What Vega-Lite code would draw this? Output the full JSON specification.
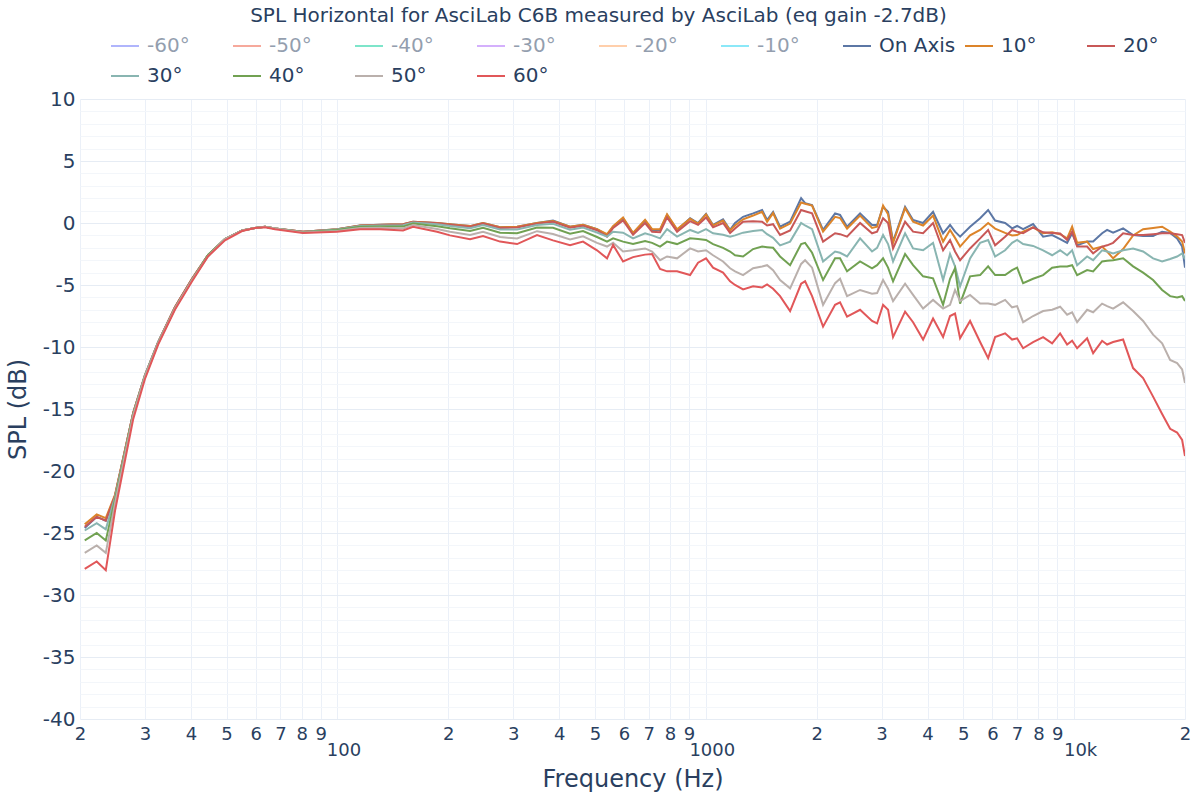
{
"$schema":"https://vega.github.io/schema/vega-lite/v6.json",
"width":1105,"height":620,
"autosize":{"type":"none"},
"padding":{"left":80,"top":99,"right":15,"bottom":81},
"background":"white",
"title":{"text":"SPL Horizontal for AsciLab C6B measured by AsciLab (eq gain -2.7dB)","anchor":"middle","fontSize":20,"font":"DejaVu Sans","fontWeight":"normal","color":"#2a3f5f","offset":5,"dx":-34},
"config":{"view":{"stroke":null}},
"data":{"values":[
{"f":20.6,"On Axis":-24.6,"10°":-24.3,"20°":-24.5,"30°":-24.8,"40°":-25.6,"50°":-26.6,"60°":-27.9},
{"f":22.2,"On Axis":-23.7,"10°":-23.5,"20°":-23.7,"30°":-24.2,"40°":-25.0,"50°":-26.0,"60°":-27.3},
{"f":23.5,"On Axis":-24.0,"10°":-23.8,"20°":-24.0,"30°":-24.7,"40°":-25.6,"50°":-26.6,"60°":-28.0},
{"f":24.9,"On Axis":-22.0,"10°":-21.9,"20°":-22.0,"30°":-22.1,"40°":-22.3,"50°":-22.6,"60°":-23.2},
{"f":27.9,"On Axis":-15.3,"10°":-15.3,"20°":-15.3,"30°":-15.4,"40°":-15.4,"50°":-15.5,"60°":-15.8},
{"f":30.0,"On Axis":-12.3,"10°":-12.3,"20°":-12.3,"30°":-12.3,"40°":-12.4,"50°":-12.4,"60°":-12.6},
{"f":32.6,"On Axis":-9.6,"10°":-9.6,"20°":-9.6,"30°":-9.6,"40°":-9.7,"50°":-9.7,"60°":-9.8},
{"f":36.2,"On Axis":-6.8,"10°":-6.8,"20°":-6.8,"30°":-6.9,"40°":-6.9,"50°":-6.9,"60°":-7.0},
{"f":40.3,"On Axis":-4.5,"10°":-4.5,"20°":-4.5,"30°":-4.6,"40°":-4.6,"50°":-4.6,"60°":-4.7},
{"f":44.5,"On Axis":-2.6,"10°":-2.6,"20°":-2.6,"30°":-2.6,"40°":-2.6,"50°":-2.7,"60°":-2.7},
{"f":49.5,"On Axis":-1.3,"10°":-1.3,"20°":-1.3,"30°":-1.3,"40°":-1.3,"50°":-1.3,"60°":-1.4},
{"f":55.1,"On Axis":-0.6,"10°":-0.6,"20°":-0.6,"30°":-0.6,"40°":-0.6,"50°":-0.6,"60°":-0.65},
{"f":59.7,"On Axis":-0.4,"10°":-0.4,"20°":-0.4,"30°":-0.4,"40°":-0.4,"50°":-0.4,"60°":-0.4},
{"f":63.6,"On Axis":-0.3,"10°":-0.3,"20°":-0.3,"30°":-0.3,"40°":-0.3,"50°":-0.3,"60°":-0.35},
{"f":67.7,"On Axis":-0.45,"10°":-0.45,"20°":-0.45,"30°":-0.45,"40°":-0.45,"50°":-0.45,"60°":-0.5},
{"f":80.6,"On Axis":-0.7,"10°":-0.7,"20°":-0.7,"30°":-0.72,"40°":-0.74,"50°":-0.77,"60°":-0.8},
{"f":99.7,"On Axis":-0.5,"10°":-0.5,"20°":-0.52,"30°":-0.53,"40°":-0.57,"50°":-0.64,"60°":-0.7},
{"f":115.2,"On Axis":-0.2,"10°":-0.2,"20°":-0.22,"30°":-0.25,"40°":-0.31,"50°":-0.4,"60°":-0.5},
{"f":130.5,"On Axis":-0.15,"10°":-0.15,"20°":-0.17,"30°":-0.21,"40°":-0.28,"50°":-0.39,"60°":-0.5},
{"f":150.7,"On Axis":-0.1,"10°":-0.1,"20°":-0.12,"30°":-0.18,"40°":-0.29,"50°":-0.44,"60°":-0.6},
{"f":160.4,"On Axis":0.1,"10°":0.1,"20°":0.08,"30°":0.04,"40°":-0.05,"50°":-0.17,"60°":-0.3},
{"f":186.4,"On Axis":0.0,"10°":0.0,"20°":-0.03,"30°":-0.11,"40°":-0.26,"50°":-0.48,"60°":-0.7},
{"f":202.1,"On Axis":-0.1,"10°":-0.1,"20°":-0.14,"30°":-0.24,"40°":-0.43,"50°":-0.71,"60°":-1.0},
{"f":229.1,"On Axis":-0.25,"10°":-0.25,"20°":-0.3,"30°":-0.42,"40°":-0.64,"50°":-0.96,"60°":-1.3},
{"f":248.4,"On Axis":0.0,"10°":0.0,"20°":-0.05,"30°":-0.17,"40°":-0.39,"50°":-0.71,"60°":-1.05},
{"f":276.4,"On Axis":-0.35,"10°":-0.35,"20°":-0.4,"30°":-0.53,"40°":-0.78,"50°":-1.13,"60°":-1.5},
{"f":307.4,"On Axis":-0.3,"10°":-0.3,"20°":-0.36,"30°":-0.52,"40°":-0.82,"50°":-1.25,"60°":-1.7},
{"f":348.2,"On Axis":0.0,"10°":0.0,"20°":-0.05,"30°":-0.16,"40°":-0.36,"50°":-0.66,"60°":-0.97},
{"f":384.8,"On Axis":0.2,"10°":0.15,"20°":0.1,"30°":-0.06,"40°":-0.39,"50°":-0.89,"60°":-1.4},
{"f":428.0,"On Axis":-0.3,"10°":-0.3,"20°":-0.38,"30°":-0.54,"40°":-0.86,"50°":-1.32,"60°":-1.8},
{"f":464.2,"On Axis":-0.15,"10°":-0.15,"20°":-0.22,"30°":-0.37,"40°":-0.65,"50°":-1.07,"60°":-1.5},
{"f":506.6,"On Axis":-0.5,"10°":-0.5,"20°":-0.58,"30°":-0.77,"40°":-1.13,"50°":-1.6,"60°":-2.2},
{"f":539.4,"On Axis":-0.97,"10°":-0.9,"20°":-1.1,"30°":-1.1,"40°":-1.5,"50°":-1.9,"60°":-2.85},
{"f":560.2,"On Axis":-0.3,"10°":-0.25,"20°":-0.4,"30°":-0.7,"40°":-1.24,"50°":-1.6,"60°":-1.77},
{"f":596.2,"On Axis":0.38,"10°":0.45,"20°":0.2,"30°":-0.78,"40°":-1.5,"50°":-2.3,"60°":-3.1},
{"f":634.6,"On Axis":-0.83,"10°":-0.8,"20°":-0.95,"30°":-1.24,"40°":-1.7,"50°":-2.2,"60°":-2.75},
{"f":684.2,"On Axis":0.19,"10°":0.25,"20°":0.0,"30°":-0.83,"40°":-1.45,"50°":-2.05,"60°":-2.55},
{"f":714.8,"On Axis":-0.56,"10°":-0.5,"20°":-0.7,"30°":-1.0,"40°":-1.6,"50°":-2.3,"60°":-2.5},
{"f":751.4,"On Axis":-0.56,"10°":-0.5,"20°":-0.75,"30°":-1.24,"40°":-1.9,"50°":-3.0,"60°":-3.7},
{"f":785.0,"On Axis":0.65,"10°":0.7,"20°":0.45,"30°":-0.5,"40°":-1.5,"50°":-2.7,"60°":-3.9},
{"f":835.6,"On Axis":-0.56,"10°":-0.5,"20°":-0.7,"30°":-1.1,"40°":-1.7,"50°":-2.85,"60°":-3.9},
{"f":906.6,"On Axis":0.38,"10°":0.35,"20°":0.15,"30°":-0.56,"40°":-1.24,"50°":-2.05,"60°":-4.2},
{"f":952.8,"On Axis":0.0,"10°":-0.05,"20°":-0.15,"30°":-0.8,"40°":-1.3,"50°":-2.3,"60°":-3.2},
{"f":1001.6,"On Axis":0.73,"10°":0.7,"20°":0.45,"30°":-0.5,"40°":-1.37,"50°":-2.2,"60°":-2.85},
{"f":1046.4,"On Axis":-0.16,"10°":-0.2,"20°":-0.35,"30°":-0.83,"40°":-1.7,"50°":-2.6,"60°":-3.6},
{"f":1114,"On Axis":0.3,"10°":0.2,"20°":0.0,"30°":-0.95,"40°":-2.0,"50°":-3.1,"60°":-4.0},
{"f":1164,"On Axis":-0.56,"10°":-0.6,"20°":-0.8,"30°":-1.1,"40°":-2.3,"50°":-3.65,"60°":-4.7},
{"f":1200.8,"On Axis":0.0,"10°":-0.2,"20°":-0.45,"30°":-1.0,"40°":-2.6,"50°":-3.9,"60°":-5.0},
{"f":1262.4,"On Axis":0.5,"10°":0.3,"20°":0.1,"30°":-0.78,"40°":-2.7,"50°":-4.2,"60°":-5.35},
{"f":1344.2,"On Axis":0.78,"10°":0.6,"20°":0.15,"30°":-0.65,"40°":-2.1,"50°":-3.65,"60°":-5.1},
{"f":1422,"On Axis":1.05,"10°":0.9,"20°":0.1,"30°":-0.56,"40°":-1.9,"50°":-3.5,"60°":-5.2},
{"f":1467,"On Axis":0.24,"10°":0.1,"20°":-0.2,"30°":-0.9,"40°":-1.95,"50°":-3.4,"60°":-4.95},
{"f":1523,"On Axis":0.9,"10°":0.8,"20°":-0.1,"30°":-1.2,"40°":-2.0,"50°":-3.8,"60°":-5.3},
{"f":1591,"On Axis":-0.3,"10°":-0.45,"20°":-0.97,"30°":-1.8,"40°":-2.7,"50°":-4.6,"60°":-5.9},
{"f":1694,"On Axis":0.1,"10°":-0.05,"20°":-0.6,"30°":-1.5,"40°":-3.4,"50°":-5.27,"60°":-7.1},
{"f":1814.8,"On Axis":2.0,"10°":1.65,"20°":1.05,"30°":0.0,"40°":-1.7,"50°":-3.3,"60°":-4.9},
{"f":1860.4,"On Axis":1.6,"10°":1.55,"20°":0.95,"30°":-0.2,"40°":-1.6,"50°":-3.0,"60°":-4.7},
{"f":1943.4,"On Axis":1.45,"10°":1.4,"20°":0.78,"30°":-0.5,"40°":-2.4,"50°":-3.6,"60°":-5.9},
{"f":2081.6,"On Axis":-0.56,"10°":-0.7,"20°":-1.5,"30°":-3.1,"40°":-4.6,"50°":-6.6,"60°":-8.36},
{"f":2244,"On Axis":0.78,"10°":0.5,"20°":-0.83,"30°":-2.3,"40°":-2.85,"50°":-4.85,"60°":-6.6},
{"f":2314.8,"On Axis":0.65,"10°":0.4,"20°":-0.9,"30°":-2.4,"40°":-2.85,"50°":-4.5,"60°":-6.4},
{"f":2418.4,"On Axis":-0.3,"10°":-0.45,"20°":-1.1,"30°":-2.7,"40°":-3.9,"50°":-5.9,"60°":-7.55},
{"f":2623.4,"On Axis":0.78,"10°":0.6,"20°":0.0,"30°":-1.24,"40°":-3.1,"50°":-5.4,"60°":-7.0},
{"f":2827.2,"On Axis":-0.16,"10°":-0.4,"20°":-0.83,"30°":-2.3,"40°":-3.65,"50°":-5.7,"60°":-7.9},
{"f":2917.6,"On Axis":-0.16,"10°":-0.3,"20°":-0.7,"30°":-2.0,"40°":-3.4,"50°":-5.65,"60°":-8.1},
{"f":3029,"On Axis":1.3,"10°":1.4,"20°":0.38,"30°":-0.97,"40°":-2.85,"50°":-4.6,"60°":-6.6},
{"f":3125.2,"On Axis":0.9,"10°":0.7,"20°":0.0,"30°":-1.7,"40°":-3.6,"50°":-5.3,"60°":-7.0},
{"f":3224,"On Axis":-1.5,"10°":-1.6,"20°":-2.05,"30°":-3.1,"40°":-4.7,"50°":-6.3,"60°":-9.2},
{"f":3476,"On Axis":1.3,"10°":1.2,"20°":0.1,"30°":-0.83,"40°":-2.5,"50°":-4.9,"60°":-7.15},
{"f":3654,"On Axis":0.24,"10°":0.1,"20°":-0.7,"30°":-2.05,"40°":-3.4,"50°":-5.8,"60°":-8.0},
{"f":3890,"On Axis":0.0,"10°":-0.2,"20°":-0.83,"30°":-2.2,"40°":-4.3,"50°":-6.9,"60°":-9.4},
{"f":4140,"On Axis":0.9,"10°":0.6,"20°":0.0,"30°":-1.6,"40°":-4.46,"50°":-6.2,"60°":-7.7},
{"f":4408,"On Axis":-0.83,"10°":-1.5,"20°":-2.2,"30°":-4.6,"40°":-6.6,"50°":-6.9,"60°":-9.2},
{"f":4604,"On Axis":-0.16,"10°":-0.56,"20°":-1.37,"30°":-2.5,"40°":-4.5,"50°":-6.6,"60°":-7.5},
{"f":4750,"On Axis":-0.7,"10°":-1.2,"20°":-2.3,"30°":-3.5,"40°":-3.65,"50°":-5.4,"60°":-7.3},
{"f":4902,"On Axis":-1.1,"10°":-1.9,"20°":-3.0,"30°":-5.1,"40°":-6.5,"50°":-6.3,"60°":-9.3},
{"f":5218,"On Axis":-0.3,"10°":-1.0,"20°":-2.05,"30°":-2.85,"40°":-4.3,"50°":-5.8,"60°":-7.9},
{"f":5556,"On Axis":0.38,"10°":-0.56,"20°":-1.24,"30°":-1.6,"40°":-4.2,"50°":-6.5,"60°":-9.6},
{"f":5842,"On Axis":1.05,"10°":0.0,"20°":-0.56,"30°":-1.37,"40°":-3.5,"50°":-6.5,"60°":-10.9},
{"f":6102,"On Axis":0.2,"10°":-0.45,"20°":-1.8,"30°":-2.7,"40°":-4.2,"50°":-6.6,"60°":-9.2},
{"f":6496,"On Axis":0.0,"10°":-0.8,"20°":-1.1,"30°":-2.2,"40°":-4.2,"50°":-6.2,"60°":-8.9},
{"f":6786,"On Axis":-0.43,"10°":-1.0,"20°":-0.56,"30°":-1.6,"40°":-3.8,"50°":-6.8,"60°":-9.4},
{"f":7002,"On Axis":-0.24,"10°":-0.97,"20°":-0.7,"30°":-1.37,"40°":-3.6,"50°":-6.7,"60°":-9.3},
{"f":7270,"On Axis":-0.5,"10°":-0.7,"20°":-0.83,"30°":-1.7,"40°":-4.86,"50°":-8.0,"60°":-10.1},
{"f":7738,"On Axis":-0.08,"10°":-0.35,"20°":-0.35,"30°":-1.85,"40°":-4.5,"50°":-7.5,"60°":-9.6},
{"f":8238,"On Axis":-1.1,"10°":-0.83,"20°":-0.75,"30°":-2.2,"40°":-4.2,"50°":-7.1,"60°":-9.2},
{"f":8716,"On Axis":-0.97,"10°":-0.75,"20°":-0.8,"30°":-2.6,"40°":-3.6,"50°":-7.0,"60°":-9.7},
{"f":9162,"On Axis":-1.3,"10°":-0.9,"20°":-0.85,"30°":-2.2,"40°":-3.5,"50°":-6.75,"60°":-8.9},
{"f":9572,"On Axis":-1.6,"10°":-1.24,"20°":-1.37,"30°":-2.6,"40°":-3.5,"50°":-7.4,"60°":-9.8},
{"f":9876,"On Axis":-0.83,"10°":-0.3,"20°":-0.7,"30°":-2.2,"40°":-3.4,"50°":-7.2,"60°":-9.5},
{"f":10190,"On Axis":-1.8,"10°":-1.6,"20°":-1.9,"30°":-3.4,"40°":-4.2,"50°":-8.0,"60°":-10.1},
{"f":10846,"On Axis":-1.5,"10°":-1.5,"20°":-1.9,"30°":-2.7,"40°":-3.8,"50°":-7.0,"60°":-9.3},
{"f":11262,"On Axis":-1.5,"10°":-2.1,"20°":-2.45,"30°":-3.0,"40°":-3.9,"50°":-7.2,"60°":-10.5},
{"f":11912,"On Axis":-0.83,"10°":-1.9,"20°":-1.9,"30°":-2.2,"40°":-3.1,"50°":-6.5,"60°":-9.5},
{"f":12290,"On Axis":-0.56,"10°":-2.3,"20°":-1.8,"30°":-2.3,"40°":-3.05,"50°":-6.7,"60°":-9.8},
{"f":12760,"On Axis":-0.78,"10°":-2.85,"20°":-1.6,"30°":-2.45,"40°":-3.0,"50°":-6.9,"60°":-9.6},
{"f":13584,"On Axis":-0.43,"10°":-2.1,"20°":-0.83,"30°":-2.2,"40°":-2.85,"50°":-6.4,"60°":-9.4},
{"f":14458,"On Axis":-0.97,"10°":-1.0,"20°":-0.97,"30°":-2.05,"40°":-3.5,"50°":-7.1,"60°":-11.7},
{"f":15392,"On Axis":-1.05,"10°":-0.5,"20°":-0.97,"30°":-2.3,"40°":-4.0,"50°":-7.9,"60°":-12.5},
{"f":16384,"On Axis":-1.05,"10°":-0.4,"20°":-0.9,"30°":-2.85,"40°":-4.6,"50°":-9.0,"60°":-14.0},
{"f":17336,"On Axis":-0.7,"10°":-0.3,"20°":-0.83,"30°":-3.1,"40°":-5.4,"50°":-9.7,"60°":-15.4},
{"f":18224,"On Axis":-0.8,"10°":-0.7,"20°":-0.83,"30°":-2.9,"40°":-5.9,"50°":-11.05,"60°":-16.6},
{"f":19038,"On Axis":-1.24,"10°":-1.1,"20°":-0.9,"30°":-2.7,"40°":-6.0,"50°":-11.3,"60°":-16.9},
{"f":19644,"On Axis":-1.9,"10°":-1.5,"20°":-0.97,"30°":-2.45,"40°":-5.9,"50°":-11.8,"60°":-17.5},
{"f":20000,"On Axis":-3.6,"10°":-2.45,"20°":-1.6,"30°":-2.9,"40°":-6.3,"50°":-12.9,"60°":-18.8}
]},
"transform":[{"fold":["On Axis","10°","20°","30°","40°","50°","60°"],"as":["angle","spl"]}],
"mark":{"type":"line","strokeWidth":2,"clip":true},
"encoding":{
"x":{"field":"f","type":"quantitative","scale":{"type":"log","domain":[20,20000],"nice":false},
"axis":{"title":"Frequency (Hz)","values":[20,30,40,50,60,70,80,90,100,200,300,400,500,600,700,800,900,1000,2000,3000,4000,5000,6000,7000,8000,9000,10000,20000],
"labelExpr":"datum.value==100?'100':datum.value==1000?'1000':datum.value==10000?'10k':substring(toString(datum.value),0,1)",
"grid":true,"gridColor":"#ebf0f8","gridWidth":1,"ticks":false,"domain":false,
"labelFont":"DejaVu Sans","labelFontSize":18,"labelColor":"#2a3f5f",
"labelPadding":{"condition":{"test":"datum.value==100||datum.value==1000||datum.value==10000","value":22},"value":6},
"labelOffset":{"condition":{"test":"datum.value==100||datum.value==1000||datum.value==10000","value":6},"value":0},
"labelOverlap":false,"labelFlush":false,"labelBound":false,
"titleFont":"DejaVu Sans","titleFontSize":24,"titleFontWeight":"normal","titleColor":"#2a3f5f","titlePadding":8}},
"y":{"field":"spl","type":"quantitative","scale":{"domain":[-40,10],"nice":false,"zero":false},
"axis":{"title":"SPL (dB)","values":[-40,-39,-38,-37,-36,-35,-34,-33,-32,-31,-30,-29,-28,-27,-26,-25,-24,-23,-22,-21,-20,-19,-18,-17,-16,-15,-14,-13,-12,-11,-10,-9,-8,-7,-6,-5,-4,-3,-2,-1,0,1,2,3,4,5,6,7,8,9,10],
"labelExpr":"datum.value % 5 == 0 ? toString(datum.value) : ''",
"grid":true,"gridColor":{"condition":{"test":"datum.value % 5 == 0","value":"#e6ecf4"},"value":"#f3f6fa"},"ticks":false,"domain":false,
"labelFont":"DejaVu Sans","labelFontSize":20,"labelColor":"#2a3f5f","labelPadding":5,"labelOverlap":false,"labelFlush":false,"labelBound":false,
"titleFont":"DejaVu Sans","titleFontSize":24,"titleFontWeight":"normal","titleColor":"#2a3f5f","titlePadding":12}},
"color":{"field":"angle","type":"nominal",
"scale":{"domain":["-60°","-50°","-40°","-30°","-20°","-10°","On Axis","10°","20°","30°","40°","50°","60°"],
"range":["#636efa","#EF553B","#00cc96","#ab63fa","#FFA15A","#19d3f3","#5c77a5","#dc842a","#c85857","#89b5b1","#71a152","#bab0ac","#e15759"]},
"legend":{"title":null,"orient":"none","legendX":30,"legendY":-68,"direction":"horizontal","columns":9,"gridAlign":"all",
"symbolType":"stroke","symbolStrokeWidth":2,"symbolSize":784,"labelFont":"DejaVu Sans","labelFontSize":20,"labelColor":"#2a3f5f","labelOffset":7,"columnPadding":5,"rowPadding":5,"padding":0,"labelLimit":200,
"encode":{"symbols":{"update":{"opacity":{"signal":"indexof(['-60°','-50°','-40°','-30°','-20°','-10°'], datum.value) >= 0 ? 0.5 : 1"}}},
"labels":{"update":{"opacity":{"signal":"indexof(['-60°','-50°','-40°','-30°','-20°','-10°'], datum.value) >= 0 ? 0.5 : 1"}}}}}}
}
}
